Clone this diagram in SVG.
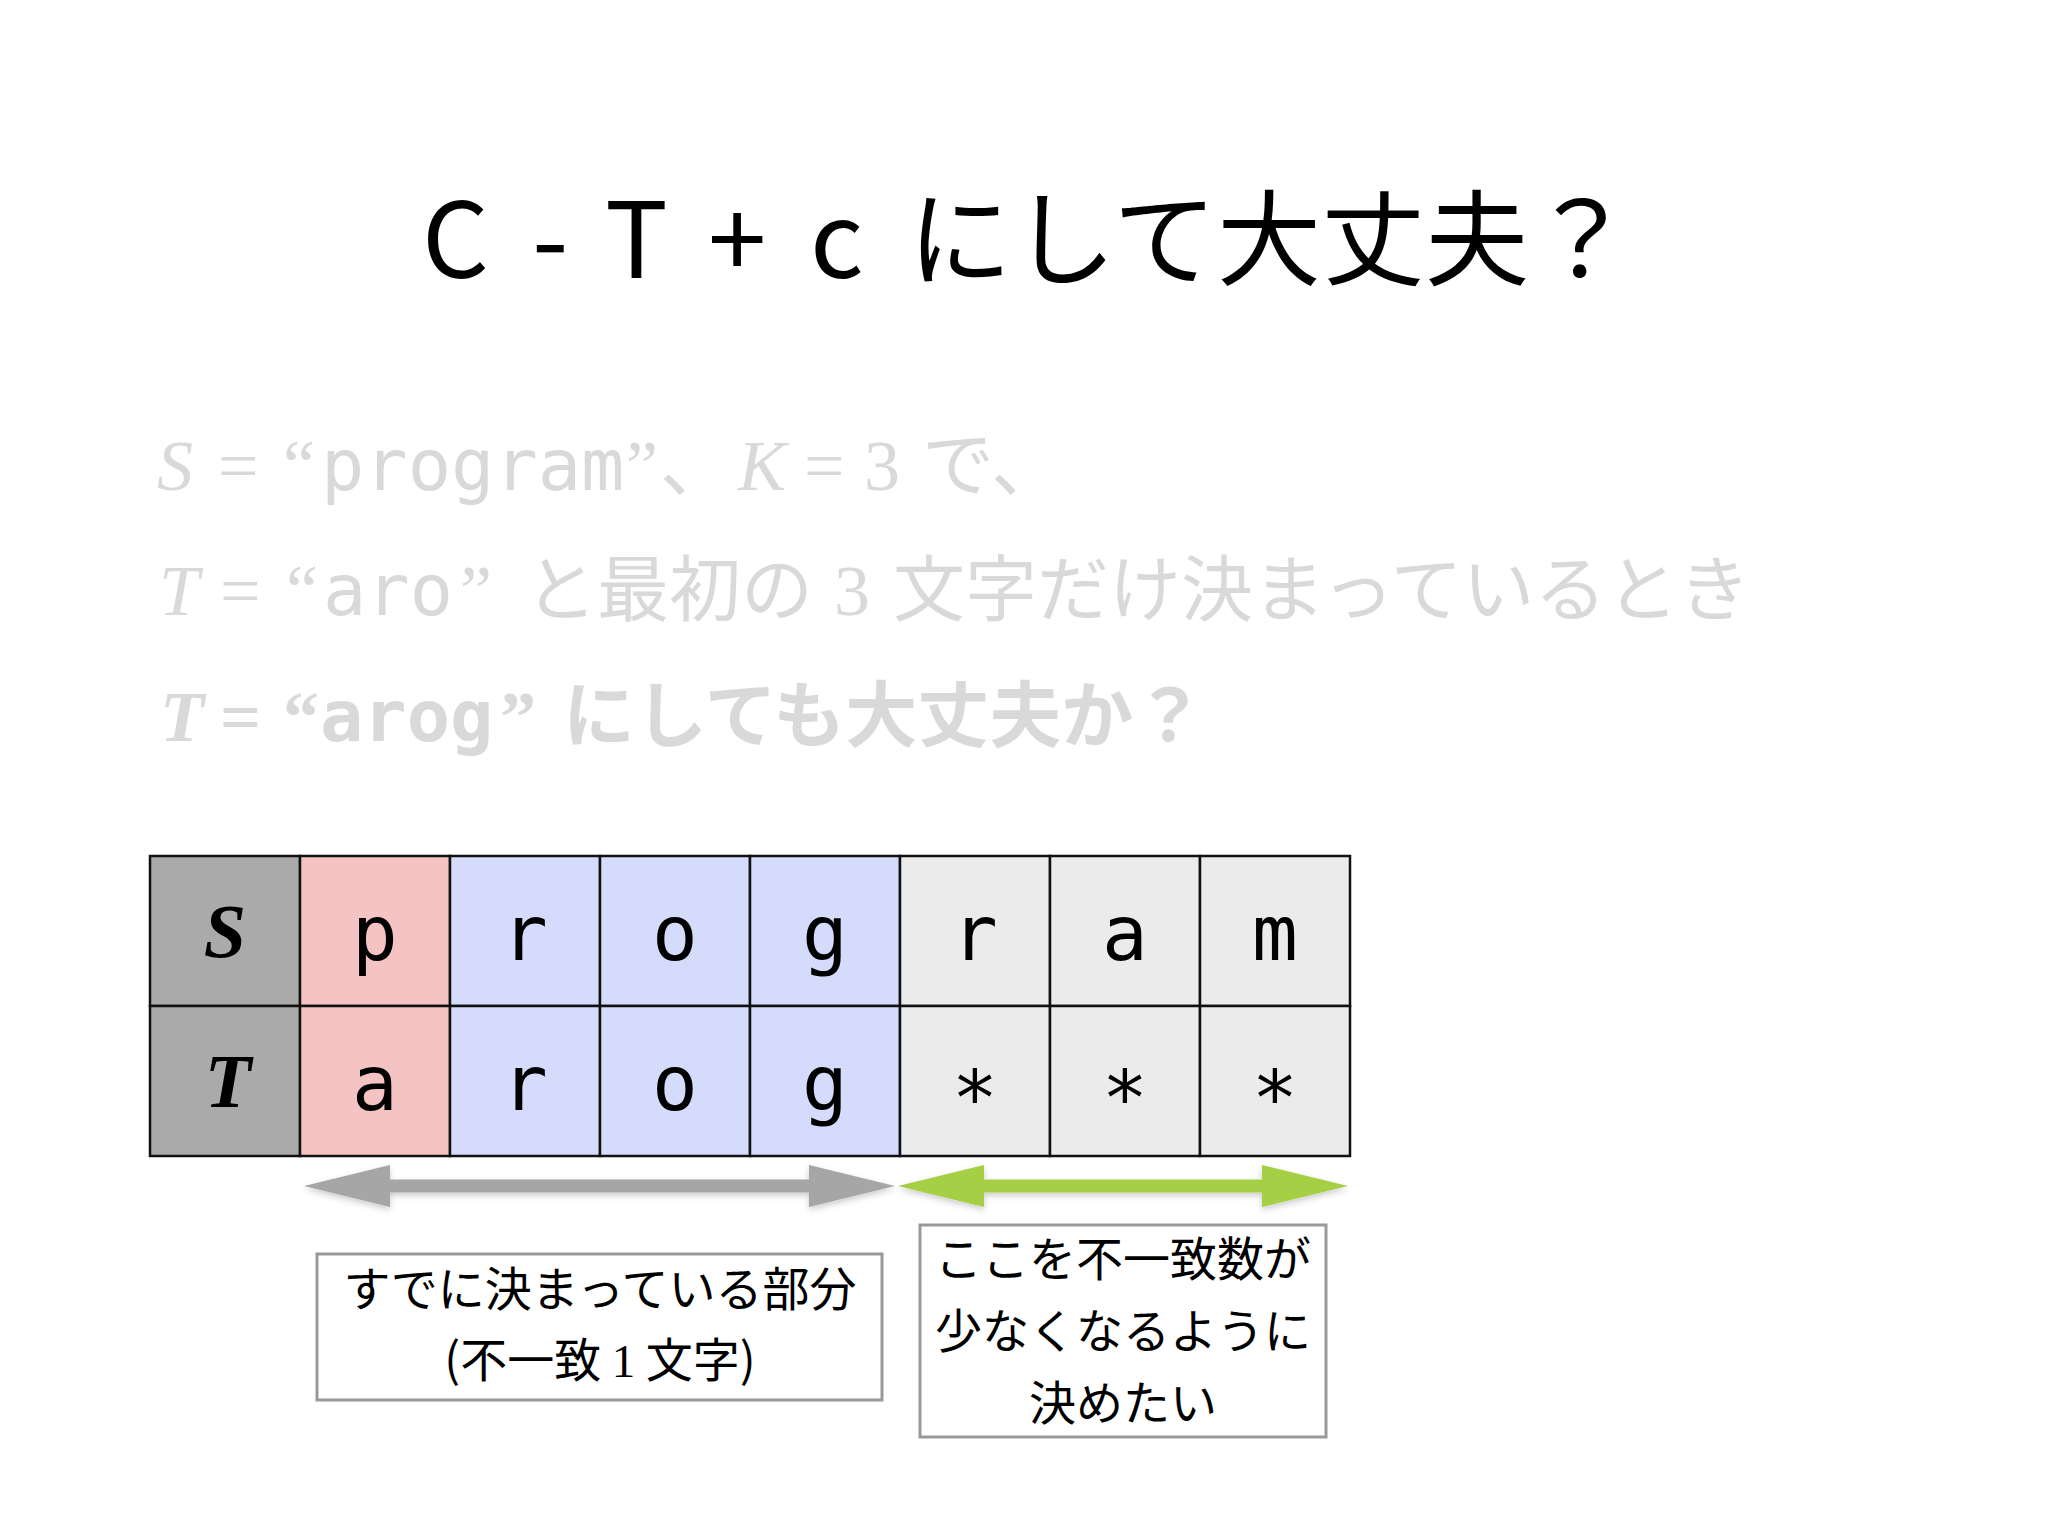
<svg xmlns="http://www.w3.org/2000/svg" width="2048" height="1536" viewBox="0 0 2048 1536">
<defs>
<style>
.cjk { font-family: "Noto Sans CJK JP", "Noto Sans", sans-serif; }
.serif { font-family: "Liberation Serif", "DejaVu Serif", serif; }
.mono { font-family: "DejaVu Sans Mono", "Liberation Mono", monospace; }
.it { font-family: "Liberation Serif", "DejaVu Serif", serif; font-style: italic; }
.faint { fill: #d9d9d9; font-size: 72px; }
.cell { stroke: #111111; stroke-width: 2.5; }
.hdr { fill: #aaaaaa; }
.pink { fill: #f4c3c3; }
.blue { fill: #d5dcfb; }
.gray { fill: #ebebeb; }
.hdrtxt { font-family: "Liberation Serif", "DejaVu Serif", serif; font-style: italic; font-weight: bold; font-size: 76px; fill: #000; text-anchor: middle; }
.ch { font-family: "DejaVu Sans Mono", "Liberation Mono", monospace; font-size: 76px; fill: #000; text-anchor: middle; }
.box { fill: #ffffff; stroke: #999999; stroke-width: 3; }
.boxtxt { font-family: "Noto Sans CJK JP", "Noto Sans", sans-serif; font-size: 47px; fill: #000; text-anchor: middle; }
</style>
<filter id="sh" x="-10%" y="-50%" width="120%" height="200%">
<feDropShadow dx="0" dy="3" stdDeviation="3" flood-color="#000" flood-opacity="0.2"/>
</filter>
</defs>
<rect width="2048" height="1536" fill="#ffffff"/>

<g id="title">
<text class="cjk" y="278" font-size="105" fill="#000"><tspan x="422">C</tspan><tspan x="532">-</tspan><tspan x="605">T</tspan><tspan x="708">+</tspan><tspan x="810">c</tspan><tspan x="908" font-size="104">にして大丈夫？</tspan></text>
</g>

<g id="statement">
<text class="faint" y="490"><tspan class="it" x="157">S</tspan><tspan class="serif" x="218">=</tspan><tspan class="serif" x="283">“</tspan><tspan class="mono" x="321">program</tspan><tspan class="serif" x="626">”</tspan><tspan class="cjk" x="660">、</tspan><tspan class="it" x="738">K</tspan><tspan class="serif" x="804">=</tspan><tspan class="serif" x="864">3</tspan><tspan class="cjk" x="922">で、</tspan></text>
<text class="faint" y="615"><tspan class="it" x="159">T</tspan><tspan class="serif" x="220">=</tspan><tspan class="serif" x="286">“</tspan><tspan class="mono" x="323">aro</tspan><tspan class="serif" x="460">”</tspan><tspan class="cjk" x="525">と最初の</tspan><tspan class="serif" x="834">3</tspan><tspan class="cjk" x="893">文字だけ決まっているとき</tspan></text>
<text class="faint" y="741" font-weight="bold"><tspan class="it" x="160">T</tspan><tspan class="serif" x="220">=</tspan><tspan class="serif" x="283">“</tspan><tspan class="mono" x="320">arog</tspan><tspan class="serif" x="500">”</tspan><tspan class="cjk" x="563">にしても大丈夫か？</tspan></text>
</g>

<g id="table">
<g id="row-S">
<rect class="cell hdr" x="150" y="856" width="150" height="150"/>
<rect class="cell pink" x="300" y="856" width="150" height="150"/>
<rect class="cell blue" x="450" y="856" width="150" height="150"/>
<rect class="cell blue" x="600" y="856" width="150" height="150"/>
<rect class="cell blue" x="750" y="856" width="150" height="150"/>
<rect class="cell gray" x="900" y="856" width="150" height="150"/>
<rect class="cell gray" x="1050" y="856" width="150" height="150"/>
<rect class="cell gray" x="1200" y="856" width="150" height="150"/>
<text class="hdrtxt" x="225" y="957">S</text>
<text class="ch" x="375" y="960">p</text>
<text class="ch" x="525" y="960">r</text>
<text class="ch" x="675" y="960">o</text>
<text class="ch" x="825" y="960">g</text>
<text class="ch" x="975" y="960">r</text>
<text class="ch" x="1125" y="960">a</text>
<text class="ch" x="1275" y="960">m</text>
</g>
<g id="row-T">
<rect class="cell hdr" x="150" y="1006" width="150" height="150"/>
<rect class="cell pink" x="300" y="1006" width="150" height="150"/>
<rect class="cell blue" x="450" y="1006" width="150" height="150"/>
<rect class="cell blue" x="600" y="1006" width="150" height="150"/>
<rect class="cell blue" x="750" y="1006" width="150" height="150"/>
<rect class="cell gray" x="900" y="1006" width="150" height="150"/>
<rect class="cell gray" x="1050" y="1006" width="150" height="150"/>
<rect class="cell gray" x="1200" y="1006" width="150" height="150"/>
<text class="hdrtxt" x="228" y="1107">T</text>
<text class="ch" x="375" y="1110">a</text>
<text class="ch" x="525" y="1110">r</text>
<text class="ch" x="675" y="1110">o</text>
<text class="ch" x="825" y="1110">g</text>
<text class="ch" x="975" y="1125">*</text>
<text class="ch" x="1125" y="1125">*</text>
<text class="ch" x="1275" y="1125">*</text>
</g>
</g>

<g id="connectors">
<polygon filter="url(#sh)" fill="#a6a6a6" points="304,1186 390,1165 390,1179.5 809,1179.5 809,1165 895,1186 809,1207 809,1192.5 390,1192.5 390,1207"/>
<polygon filter="url(#sh)" fill="#a5cf45" points="898,1186 984,1165 984,1179.5 1262,1179.5 1262,1165 1348,1186 1262,1207 1262,1192.5 984,1192.5 984,1207"/>
</g>

<g id="box-fixed">
<rect class="box" x="317" y="1254" width="565" height="146"/>
<text class="boxtxt" x="600" y="1306">すでに決まっている部分</text>
<text class="boxtxt" x="600" y="1377">(不一致 <tspan class="serif">1</tspan> 文字)</text>
</g>

<g id="box-free">
<rect class="box" x="920" y="1225" width="406" height="212"/>
<text class="boxtxt" x="1123" y="1276">ここを不一致数が</text>
<text class="boxtxt" x="1123" y="1348">少なくなるように</text>
<text class="boxtxt" x="1123" y="1420">決めたい</text>
</g>
</svg>
